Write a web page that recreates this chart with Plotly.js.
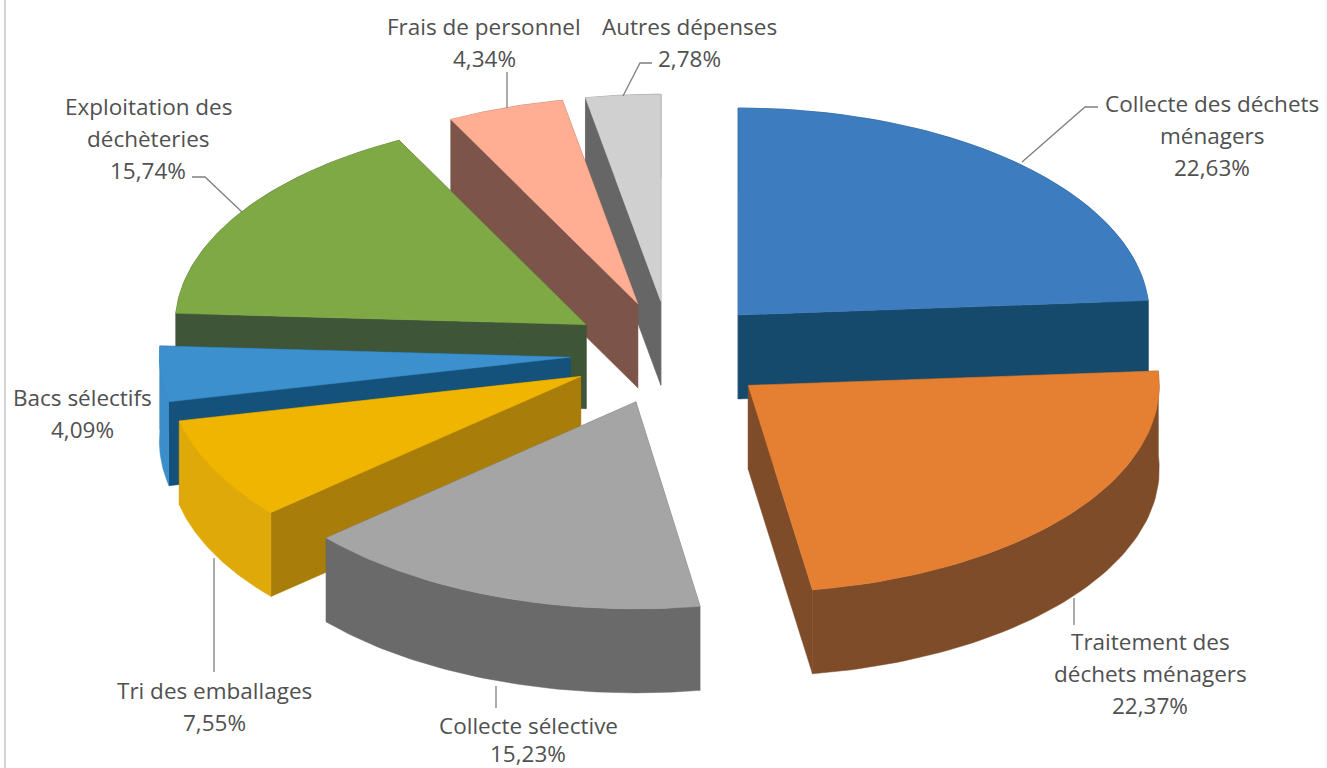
<!DOCTYPE html>
<html>
<head>
<meta charset="utf-8">
<script src="https://cdn.plot.ly/plotly-3.0.1.min.js"></script>
<style>html,body{margin:0;padding:0;background:#fff}#chart{width:1327px;height:768px}</style>
</head>
<body>
<div id="chart"></div>
<script>
// ---- Data ----
const categories = ["Collecte des déchets ménagers","Traitement des déchets ménagers","Collecte sélective","Tri des emballages","Bacs sélectifs","Exploitation des déchèteries","Frais de personnel","Autres dépenses"];
const shares = [22.63,22.37,15.23,7.55,4.09,15.74,4.34,2.78];
const labelFirstLines = ["Collecte des déchets|ménagers","Traitement des|déchets ménagers","Collecte sélective","Tri des emballages","Bacs sélectifs","Exploitation des|déchèteries","Frais de personnel","Autres dépenses"];

// ---- Styles ----
const capColors    = ["#3D7CBF","#E58032","#A5A5A5","#EFB500","#3D90CE","#7EA945","#FFAE94","#D0D0D0"];
const radialColors = ["#164A6C","#7F4C2A","#666666","#A97D0A","#14527B","#3E5537","#7D5449","#666666"];
const arcColors    = ["#164A6C","#7F4C2A","#6A6A6A","#E0A90A","#3C8ECB","#3E5537","#7D5449","#666666"];
const drawOrder = [7,6,5,0,4,3,2,1];

// ---- Projection of the tilted, exploded pie ----
const CX = 670, CY = 353, RX = 411, RY = 207, EX = 100, EY = 52, DEPTH = 84;
const total = shares.reduce((a,b)=>a+b,0);
const traces = [];
function poly(xs, ys, color){
  traces.push({type:"scatter",mode:"lines",x:xs,y:ys,fill:"toself",fillcolor:color,
    line:{color:color,width:0.5},hoverinfo:"skip",showlegend:false});
}
let cum = 0;
const slices = shares.map(v=>{
  const a0 = cum/total*2*Math.PI; cum += v; const a1 = cum/total*2*Math.PI;
  return {a0,a1};
});
drawOrder.forEach(i=>{
  const {a0,a1} = slices[i], mid=(a0+a1)/2;
  const ax = CX + EX*Math.sin(mid), ay = CY - EY*Math.cos(mid);
  const n = 64, rimX=[], rimY=[];
  for(let k=0;k<=n;k++){
    const t = a0+(a1-a0)*k/n;
    rimX.push(ax+RX*Math.sin(t)); rimY.push(ay-RY*Math.cos(t));
  }
  const last = rimX.length-1;
  // radial walls
  poly([ax,rimX[0],rimX[0],ax,ax],[ay,rimY[0],rimY[0]+DEPTH,ay+DEPTH,ay],radialColors[i]);
  poly([ax,rimX[last],rimX[last],ax,ax],[ay,rimY[last],rimY[last]+DEPTH,ay+DEPTH,ay],radialColors[i]);
  // outer wall
  poly(rimX.concat(rimX.slice().reverse()),rimY.concat(rimY.slice().reverse().map(y=>y+DEPTH)),arcColors[i]);
  // top face
  poly([ax].concat(rimX,[ax]),[ay].concat(rimY,[ay]),capColors[i]);
});

// ---- Labels ----
const labelCenters = [[1212,103],[1150,641],[528,725],[214,690],[82,397],[148,106],[484,26],[689,26]];
const LINE = 32;
const annotations = [];
categories.forEach((c,i)=>{
  const lines = labelFirstLines[i].split("|").concat([shares[i].toFixed(2).replace(".",",")+"%"]);
  lines.forEach((t,j)=>annotations.push({
    xref:"x",yref:"y",x:labelCenters[i][0],y:labelCenters[i][1]+j*(i===2?28:LINE),text:t,showarrow:false,
    xanchor:"center",yanchor:"middle",font:{family:"'Open Sans', sans-serif",size:22.5,color:"#505050"}
  }));
});

// ---- Leader lines and page edge ----
const leaderPaths = ["M1022 162 L1085 107 L1098 107","M1074 598 L1074 625","M496 686 L496 708","M214 558 L214 672","M242 212 L205 177 L192 177","M507 108 L507 72","M623 96 L640 63 L652 63"];
const shapes = leaderPaths.map(p=>({type:"path",path:p,xref:"x",yref:"y",line:{color:"#7F7F7F",width:1.3}}));
shapes.push({type:"line",xref:"x",yref:"y",x0:5,x1:5,y0:0,y1:768,line:{color:"#D4D4D4",width:2}});
shapes.push({type:"line",xref:"x",yref:"y",x0:1326,x1:1326,y0:0,y1:768,line:{color:"#F0F0F0",width:1}});

Plotly.newPlot("chart",traces,{
  width:1327,height:768,margin:{l:0,r:0,t:0,b:0},
  paper_bgcolor:"#fff",plot_bgcolor:"#fff",showlegend:false,
  xaxis:{range:[0,1327],visible:false,fixedrange:true},
  yaxis:{range:[768,0],visible:false,fixedrange:true},
  annotations:annotations,shapes:shapes
},{displayModeBar:false,staticPlot:true});
</script>
</body>
</html>
